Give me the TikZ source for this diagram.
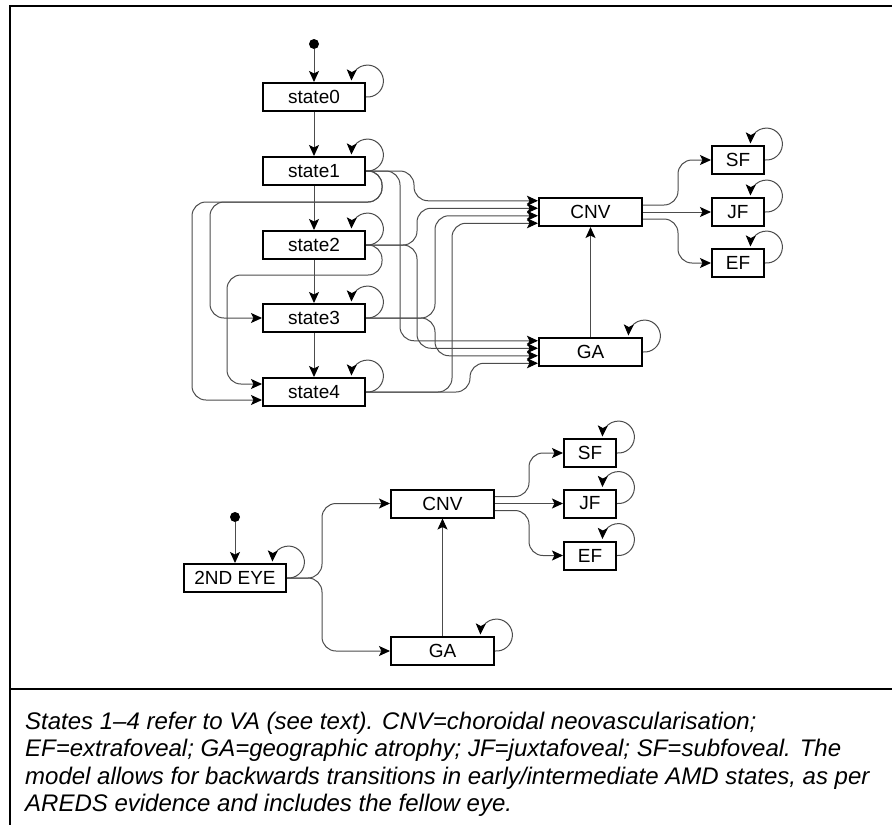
\documentclass[tikz,border=0pt]{standalone}
\usepackage{fontspec}
\setmainfont{Liberation Sans}
\usetikzlibrary{arrows.meta,calc}
% self-transition: a small loop from the right side back onto the top edge
\newcommand{\selfarc}[1]{\draw[edge] (#1.east) arc[start angle=95,end angle=-178,radius=16];}
\begin{document}
\begin{tikzpicture}[x=1pt,y=-1pt,
  box/.style={draw=black,line width=2pt,minimum height=28pt,inner sep=0pt,
              font=\fontsize{19}{19}\selectfont},
  wbox/.style={box,minimum width=102pt},
  cbox/.style={box,minimum width=103pt},
  sbox/.style={box,minimum width=52pt},
  edge/.style={draw=black!70,line width=1pt,rounded corners=14pt,
               -{Stealth[length=11pt,width=10pt,inset=2.5pt,black]}},
  startdot/.style={circle,fill=black,inner sep=0pt,minimum size=10pt},
  captext/.style={anchor=base west,inner sep=0pt,font=\itshape\fontsize{24}{29}\selectfont},
  frame/.style={line width=2pt}
]
\useasboundingbox (0,0) rectangle (892,825);

% outer frame and caption divider
\draw[frame] (10,825) -- (10,6) -- (892,6);
\draw[frame] (10,689) -- (892,689);

% ---------- first eye ----------
\node[startdot] (d0) at (314,44) {};
\node[wbox] (s0) at (314,97)  {state0};
\node[wbox] (s1) at (314,171) {state1};
\node[wbox] (s2) at (314,245) {state2};
\node[wbox] (s3) at (314,318) {state3};
\node[wbox] (s4) at (314,392) {state4};

\node[cbox] (cnv) at (590.5,212) {CNV};
\node[cbox] (ga)  at (590.5,352) {GA};
\node[sbox] (sf)  at (738,160) {SF};
\node[sbox] (jf)  at (738,212) {JF};
\node[sbox] (ef)  at (738,263) {EF};

% entry points on CNV and GA
\coordinate (c1) at ($(cnv.west)+(0,-11.25)$);
\coordinate (c2) at ($(cnv.west)+(0,-3.75)$);
\coordinate (c3) at ($(cnv.west)+(0,3.75)$);
\coordinate (c4) at ($(cnv.west)+(0,11.25)$);
\coordinate (g1) at ($(ga.west)+(0,-11.25)$);
\coordinate (g2) at ($(ga.west)+(0,-3.75)$);
\coordinate (g3) at ($(ga.west)+(0,3.75)$);
\coordinate (g4) at ($(ga.west)+(0,11.25)$);

% forward chain
\draw[edge] (d0) -- (s0.north);
\draw[edge] (s0) -- (s1);
\draw[edge] (s1) -- (s2);
\draw[edge] (s2) -- (s3);
\draw[edge] (s3) -- (s4);

% self-transitions
\selfarc{s0}
\selfarc{s1}
\selfarc{s2}
\selfarc{s3}
\selfarc{s4}
\selfarc{ga}
\selfarc{sf}
\selfarc{jf}
\selfarc{ef}

% skipping transitions routed on the left
\draw[edge] (s1.east) -- ++(16,0) -- ++(0,31) -| ($(s3.west)+(-52,0)$) -- (s3.west);
\draw[edge] (s1.east) -- ++(16,0) -- ++(0,31) -| ($(s4.west)+(-70,8)$) -- ($(s4.west)+(0,8)$);
\draw[edge] (s2.east) -- ++(16,0) -- ++(0,30) -| ($(s4.west)+(-35,-8)$) -- ($(s4.west)+(0,-8)$);

% transitions to CNV
\draw[edge] (s1.east) -- ++(48,0) |- (c1);
\draw[edge] (s2.east) -- ++(51,0) |- (c2);
\draw[edge] (s3.east) -- ++(69,0) |- (c3);
\draw[edge] (s4.east) -- ++(86,0) |- (c4);

% transitions to GA
\draw[edge] (s1.east) -- ++(34,0) |- (g1);
\draw[edge] (s2.east) -- ++(51,0) |- (g2);
\draw[edge] (s3.east) -- ++(69,0) |- (g3);
\draw[edge] (s4.east) -- ++(104,0) |- (g4);

% GA to CNV and CNV subtypes
\draw[edge] (ga) -- (cnv);
\draw[edge] ($(cnv.east)+(0,-7)$) -- ++(35,0) |- (sf.west);
\draw[edge] (cnv) -- (jf);
\draw[edge] ($(cnv.east)+(0,7)$) -- ++(35,0) |- (ef.west);

% ---------- second eye ----------
\node[startdot] (d1) at (235,517) {};
\node[wbox] (eye)  at (235,578) {2ND EYE};
\node[cbox] (cnv2) at (442.5,503.5) {CNV};
\node[cbox] (ga2)  at (442.5,651) {GA};
\node[sbox] (sf2)  at (590,453) {SF};
\node[sbox] (jf2)  at (590,503.5) {JF};
\node[sbox] (ef2)  at (590,555.5) {EF};

\draw[edge] (d1) -- (eye.north);
\selfarc{eye}
\selfarc{ga2}
\selfarc{sf2}
\selfarc{jf2}
\selfarc{ef2}
\draw[edge] (eye.east) -- ++(35,0) |- (cnv2.west);
\draw[edge] (eye.east) -- ++(35,0) |- (ga2.west);
\draw[edge] (ga2) -- (cnv2);
\draw[edge] ($(cnv2.east)+(0,-7)$) -- ++(34,0) |- (sf2.west);
\draw[edge] (cnv2) -- (jf2);
\draw[edge] ($(cnv2.east)+(0,7)$) -- ++(34,0) |- (ef2.west);

% ---------- caption ----------
\node[captext] (cap1) at (25,729) {States 1–4 refer to VA (see text). CNV=choroidal neovascularisation;};
\node[captext] (cap2) at (25,756.5) {EF=extrafoveal; GA=geographic atrophy; JF=juxtafoveal; SF=subfoveal. The};
\node[captext] (cap3) at (25,784) {model allows for backwards transitions in early/intermediate AMD states, as per};
\node[captext] (cap4) at (25,811.5) {AREDS evidence and includes the fellow eye.};
\end{tikzpicture}
\end{document}
